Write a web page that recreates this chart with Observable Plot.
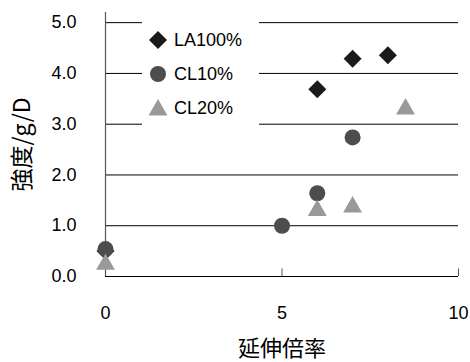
<!DOCTYPE html>
<html><head><meta charset="utf-8">
<script src="https://cdn.jsdelivr.net/npm/d3@7"></script>
<script src="https://cdn.jsdelivr.net/npm/@observablehq/plot@0.6"></script>
<style>
body{margin:0;background:#fff;}
#wrap{position:relative;width:470px;height:362px;}
#legend{position:absolute;left:142px;top:20px;width:117px;height:128px;background:#fff;}
</style></head>
<body><div id="wrap"></div>
<script>
const seriesNames = ["LA100%", "CL10%", "CL20%"];
const seriesColors = ["#1a1a1a", "#4d4d4d", "#999999"];
const seriesSymbols = ["diamond2", "circle", "triangle"];
const la100X = [0, 6, 7, 8];
const la100Y = [0.5, 3.69, 4.29, 4.36];
const cl10X = [0, 5, 6, 7];
const cl10Y = [0.54, 1.0, 1.64, 2.74];
const cl20X = [0, 6, 7, 8.5];
const cl20Y = [0.24, 1.3, 1.37, 3.3];
const xTicks = [0, 5, 10];
const yTicks = [0, 1, 2, 3, 4, 5];
const xLabel = "延伸倍率";
const yLabel = "強度/g/D";

const series = [
  {xs: la100X, ys: la100Y},
  {xs: cl10X, ys: cl10Y},
  {xs: cl20X, ys: cl20Y}
];
const radii = [8.1, 8, 7];

const dotMarks = series.map((s, i) => Plot.dot(s.xs.map((x, j) => ({x, y: s.ys[j]})), {
  x: "x", y: "y", symbol: () => seriesSymbols[i], r: radii[i], fill: seriesColors[i], stroke: "none"
}));

const plot = Plot.plot({
  width: 470, height: 362,
  marginLeft: 105, marginRight: 12, marginTop: 12, marginBottom: 86,
  style: {fontFamily: "'Liberation Sans', Arial, sans-serif", fontSize: "18px", background: "white", color: "black"},
  x: {domain: [0, 10]},
  y: {domain: [0, 5.2]},
  symbol: {type: "identity"},
  marks: [
    Plot.ruleY(yTicks.filter(d => d > 0), {stroke: "#000", strokeWidth: 1}),
    Plot.ruleY([0], {stroke: "#000", strokeWidth: 1.2}),
    Plot.ruleX([0], {stroke: "#555", strokeWidth: 1.2}),
    Plot.ruleX(xTicks.slice(1), {y1: 0, y2: 0.15, stroke: "#555"}),
    Plot.axisX({ticks: xTicks, tickSize: 0, tickPadding: 30, tickFormat: d => String(d), label: null}),
    Plot.axisY({ticks: yTicks, tickSize: 0, tickPadding: 29, tickFormat: d => d.toFixed(1), label: null}),
    ...dotMarks,
    Plot.text([xLabel], {text: d => d, frameAnchor: "bottom", lineAnchor: "middle", textAnchor: "middle", dy: 72, fontSize: 22, fontFamily: "'Noto Sans CJK JP', sans-serif"}),
    Plot.text([yLabel], {text: d => d, frameAnchor: "left", lineAnchor: "middle", textAnchor: "middle", dx: -83, rotate: -90, fontSize: 23, fontFamily: "'Noto Sans CJK JP', sans-serif"})
  ]
});
const wrap = document.getElementById("wrap");
wrap.appendChild(plot);

// legend
const leg = d3.select(wrap).append("div").attr("id", "legend");
const svg = leg.append("svg").attr("width", 117).attr("height", 128);
seriesNames.forEach((name, i) => {
  const cy = 20 + i * 34;
  const size = Math.PI * radii[i] * radii[i];
  const typ = {diamond2: d3.symbolDiamond2, circle: d3.symbolCircle, triangle: d3.symbolTriangle}[seriesSymbols[i]];
  svg.append("path").attr("d", d3.symbol(typ, size)()).attr("transform", `translate(16,${cy + (i === 2 ? 2 : 0)})`).attr("fill", seriesColors[i]);
  svg.append("text").attr("x", 32).attr("y", cy).attr("dy", "0.35em")
    .attr("font-family", "'Liberation Sans', Arial, sans-serif").attr("font-size", 18).text(name);
});
</script></body></html>
